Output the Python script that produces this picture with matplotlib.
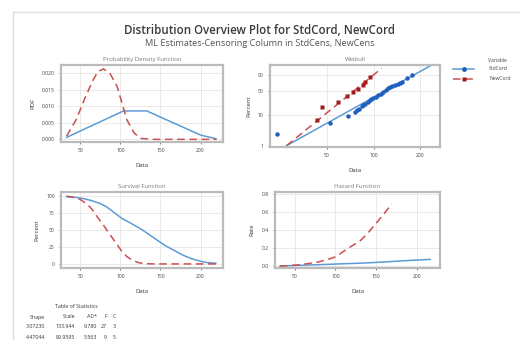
import numpy as np
import matplotlib
matplotlib.use("Agg")
import matplotlib.pyplot as plt
from matplotlib.lines import Line2D

plt.rcParams['font.family'] = ['Open Sans', 'DejaVu Sans']

# ---- data ----
# probability density
pdf_std_x = [33, 104, 133, 200, 219]
pdf_std_y = [0.0006, 0.0086, 0.0086, 0.0013, 0.0002]
pdf_new_x = [33, 45, 55, 65, 72, 79, 87, 96, 102, 108, 117, 125, 140, 220]
pdf_new_y = [0.001, 0.006, 0.012, 0.0175, 0.0205, 0.0213, 0.020, 0.016, 0.011, 0.006, 0.002, 0.0003, 0.0, 0.0]

# weibull probability plot (percent)
wb_std_x = [23.6, 52.3, 68.7, 75.9, 78, 80, 83.9, 86, 88.1, 92, 94.9, 97, 99.7, 103,
            107.4, 111, 115.8, 120, 124.7, 128, 131.2, 138, 144.7, 148, 152.3, 164, 176]
wb_std_p = [2.5, 5.7, 9.1, 12.5, 14.2, 16, 18.5, 21, 22.6, 25.5, 28.2, 30, 31.5, 35,
            38.7, 42, 46.8, 51, 56, 59, 62.5, 65, 68.2, 71, 74.6, 83.2, 90]
wb_new_x = [42.9, 46.2, 59.1, 67.1, 74, 79.7, 85.9, 88.1, 94.9]
wb_new_p = [6.8, 17.9, 25.2, 36.4, 46.8, 53.2, 65.4, 74.6, 86.7]
fit_std_x = [27.4, 238]
fit_std_p = [1.0, 99.3]
fit_new_x = [27.4, 113]
fit_new_p = [1.0, 97.9]

# survival (percent)
surv_std_x = [33, 45, 55, 65, 75, 83, 92, 102, 113, 125, 135, 146, 156, 167, 178, 188, 198, 208, 219]
surv_std_y = [99, 98, 96, 93, 89, 84, 76, 67, 60, 52, 44, 35, 27, 20, 13, 8, 4.5, 2, 1]
surv_new_x = [33, 42, 50, 56, 62, 67, 72, 78, 83, 89, 95, 101, 108, 113, 118, 123, 129, 140, 220]
surv_new_y = [100, 98, 95, 90, 84, 77, 68, 59, 50, 40, 30, 20, 11, 7, 4, 1.8, 0.5, 0, 0]

# hazard
haz_std_x = [32, 50, 70, 90, 110, 138, 160, 180, 200, 216]
haz_std_y = [0.002, 0.008, 0.014, 0.02, 0.027, 0.036, 0.047, 0.058, 0.068, 0.075]
haz_new_x = [32, 40, 50, 60, 70, 79, 89, 99, 107, 115, 123, 131, 141, 151, 160, 169]
haz_new_y = [0.0, 0.005, 0.012, 0.02, 0.033, 0.047, 0.07, 0.10, 0.145, 0.195, 0.24, 0.286, 0.38, 0.487, 0.585, 0.689]

stats_cols = ["Shape", "Scale", "AD*", "F", "C"]
stats_rows = [["3.07230", "133.944", "9.780", "27", "3"],
              ["4.47044", "89.9595", "5.563", "9", "5"]]

BLUE_L = '#5b9bd5'
BLUE_D = '#1f5fbf'
RED_L = '#c9504f'
RED_D = '#a31a1a'

W, H = 520, 340
fig = plt.figure(figsize=(W / 100, H / 100), dpi=100)


def box(x0, y0, x1, y1):
    # pixel box -> figure axes
    return fig.add_axes([x0 / W, 1 - y1 / H, (x1 - x0) / W, (y1 - y0) / H])


def style(ax, title, ylabel):
    ax.set_title(title, fontsize=4.3, color='#777777', pad=3)
    ax.set_xlabel('Data', fontsize=4.3, color='#333333', labelpad=7)
    ax.set_ylabel(ylabel, fontsize=4.3, color='#333333', labelpad=5)
    ax.tick_params(labelsize=3.6, colors='#444444', length=1.5, width=0.5, pad=3)
    ax.grid(True, color='#e6e6e6', lw=0.6)
    ax.set_axisbelow(True)
    for s in ax.spines.values():
        s.set_color('#bbbbbb')
        s.set_linewidth(1.6)


# outer frame
fig.add_artist(Line2D([13 / W, 1], [1 - 12 / H, 1 - 12 / H], color='#dddddd', lw=1))
fig.add_artist(Line2D([13 / W, 13 / W], [0, 1 - 12 / H], color='#dddddd', lw=1))

fig.text(0.5, 1 - 31 / H, 'Distribution Overview Plot for StdCord, NewCord',
         ha='center', va='center', fontsize=8.3, fontweight='semibold', color='#3a3a3a')
fig.text(0.5, 1 - 44 / H, 'ML Estimates-Censoring Column in StdCens, NewCens',
         ha='center', va='center', fontsize=6.6, color='#555555')

# PDF
ax1 = box(61, 65, 223, 142)
ax1.plot(pdf_std_x, pdf_std_y, color=BLUE_L, lw=1.1)
ax1.plot(pdf_new_x, pdf_new_y, color=RED_L, lw=1.1, ls=(0, (5, 3)))
ax1.set_xlim(26, 228)
ax1.set_ylim(-0.0008, 0.0225)
ax1.set_xticks([50, 100, 150, 200])
ax1.set_yticks([0.0, 0.005, 0.010, 0.015, 0.020])
ax1.set_yticklabels(['0.000', '0.005', '0.010', '0.015', '0.020'])
style(ax1, 'Probability Density Function', 'PDF')

# Weibull
def wfwd(p):
    p = np.clip(np.asarray(p, float) / 100.0, 1e-6, 1 - 1e-9)
    return np.log(-np.log(1 - p))


def winv(y):
    return 100.0 * (1 - np.exp(-np.exp(np.asarray(y, float))))


ax2 = box(270, 65, 440, 147)
ax2.set_xscale('log')
ax2.set_yscale('function', functions=(wfwd, winv))
ax2.plot(fit_std_x, fit_std_p, color=BLUE_L, lw=1.1)
ax2.plot(fit_new_x, fit_new_p, color=RED_L, lw=1.1, ls=(0, (5, 3)))
ax2.plot(wb_std_x, wb_std_p, 'o', color=BLUE_D, ms=3.2, mec='none')
ax2.plot(wb_new_x, wb_new_p, 's', color=RED_D, ms=3.2, mec='none')
ax2.set_xlim(21.4, 269)
ax2.set_ylim(0.9, 99.3)
ax2.set_xticks([50, 100, 200])
ax2.set_xticklabels(['50', '100', '200'])
ax2.xaxis.set_minor_locator(matplotlib.ticker.NullLocator())
ax2.set_yticks([1, 10, 50, 90])
ax2.set_yticklabels(['1', '10', '50', '90'])
ax2.yaxis.set_minor_locator(matplotlib.ticker.NullLocator())
style(ax2, 'Weibull', 'Percent')

# legend
fig.text(488 / W, 1 - 60 / H, 'Variable', fontsize=3.6, color='#444444', va='center')
leg = [('StdCord', BLUE_L, BLUE_D, 'o', '-', 69), ('NewCord', RED_L, RED_D, 's', (0, (5, 3)), 79)]
for name, lc, mc, mk, ls, py in leg:
    fig.add_artist(Line2D([453 / W, 474 / W], [1 - py / H] * 2, color=lc, lw=1.1, ls=ls))
    fig.add_artist(Line2D([463.5 / W], [1 - py / H], marker=mk, color=mc, ms=3.5, mec='none'))
    fig.text(489 / W, 1 - py / H, name, fontsize=3.6, color='#444444', va='center')

# survival
ax3 = box(61, 192, 223, 268)
ax3.plot(surv_std_x, surv_std_y, color=BLUE_L, lw=1.1)
ax3.plot(surv_new_x, surv_new_y, color=RED_L, lw=1.1, ls=(0, (5, 3)))
ax3.set_xlim(26, 228)
ax3.set_ylim(-6, 106)
ax3.set_xticks([50, 100, 150, 200])
ax3.set_yticks([0, 25, 50, 75, 100])
style(ax3, 'Survival Function', 'Percent')

# hazard
ax4 = box(275, 192, 440, 268)
ax4.plot(haz_std_x, haz_std_y, color=BLUE_L, lw=1.1)
ax4.plot(haz_new_x, haz_new_y, color=RED_L, lw=1.1, ls=(0, (5, 3)))
ax4.set_xlim(26, 228)
ax4.set_ylim(-0.02, 0.82)
ax4.set_xticks([50, 100, 150, 200])
ax4.set_yticks([0.0, 0.2, 0.4, 0.6, 0.8])
style(ax4, 'Hazard Function', 'Rate')

# table of statistics
fig.text(76 / W, 1 - 306 / H, 'Table of Statistics', fontsize=3.8, color='#333333', ha='center', va='center')
col_x = [45, 75, 97, 107, 116]
for cx, c in zip(col_x, stats_cols):
    fig.text(cx / W, 1 - 317 / H, c, fontsize=3.8, color='#333333', ha='right', va='center')
for r, row in enumerate(stats_rows):
    for cx, v in zip(col_x, row):
        fig.text(cx / W, 1 - (327 + r * 10.5) / H, v, fontsize=3.8, color='#333333', ha='right', va='center')

fig.savefig('out.png', dpi=100)
